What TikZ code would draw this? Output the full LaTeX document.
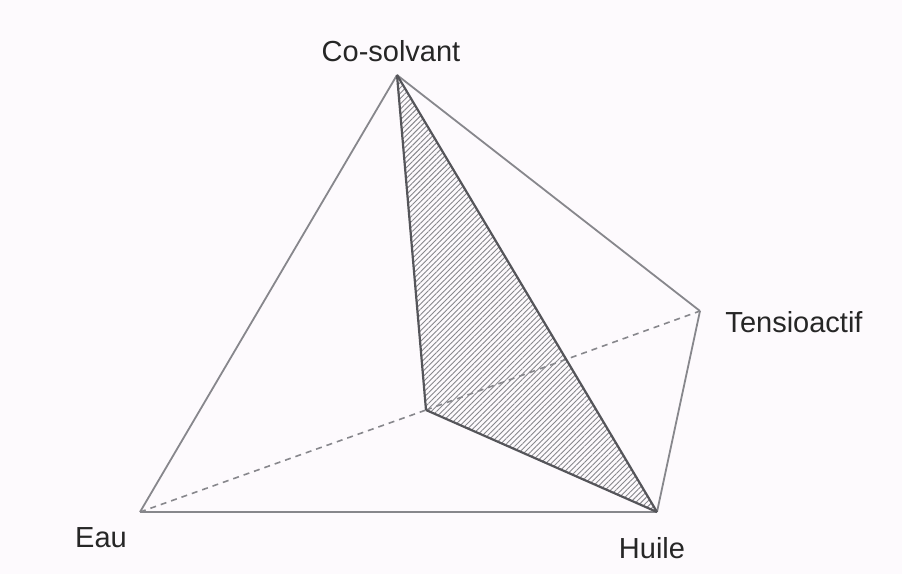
\documentclass[tikz,border=0pt]{standalone}
\usepackage{fontspec}
\setmainfont{Liberation Sans}
\usetikzlibrary{patterns.meta}
\definecolor{bgpaper}{RGB}{253,250,253}
\definecolor{edgegray}{RGB}{135,135,140}
\definecolor{edgedark}{RGB}{85,85,90}
\begin{document}
\begin{tikzpicture}[x=0.5pt, y=-0.5pt,
    edge/.style={draw=edgegray, line width=0.9pt},
    frontedge/.style={draw=edgedark, line width=1.1pt},
    hidden/.style={draw=edgegray, line width=0.8pt, dash pattern=on 3pt off 2.5pt},
    lbl/.style={font=\fontsize{14.5}{16}\selectfont, text=black!85, inner sep=0pt}]
  \fill[bgpaper] (0,0) rectangle (902,574);
  \useasboundingbox (0,0) rectangle (902,574);

  \coordinate (cos) at (397,75);
  \coordinate (ten) at (700,311);
  \coordinate (eau) at (140,512);
  \coordinate (hui) at (657,512);
  \coordinate (mid) at (426,410);

  % hatched plane
  \fill[pattern={Lines[angle=45, distance=1.9pt, line width=0.45pt]}, pattern color=edgegray]
    (cos) -- (mid) -- (hui) -- cycle;

  \draw[hidden] (eau) -- (mid);
  \draw[hidden] (mid) -- (ten);

  \draw[edge] (cos) -- (eau);
  \draw[edge] (cos) -- (ten);
  \draw[edge] (eau) -- (hui);
  \draw[edge] (ten) -- (hui);
  \draw[frontedge] (cos) -- (hui);
  \draw[frontedge] (cos) -- (mid);
  \draw[frontedge] (mid) -- (hui);

  \node[lbl] (lcos) at (391,51) {Co-solvant};
  \node[lbl] (lten) at (794,322) {Tensioactif};
  \node[lbl] (leau) at (101,538) {Eau};
  \node[lbl] (lhui) at (652,548) {Huile};
\end{tikzpicture}
\end{document}
